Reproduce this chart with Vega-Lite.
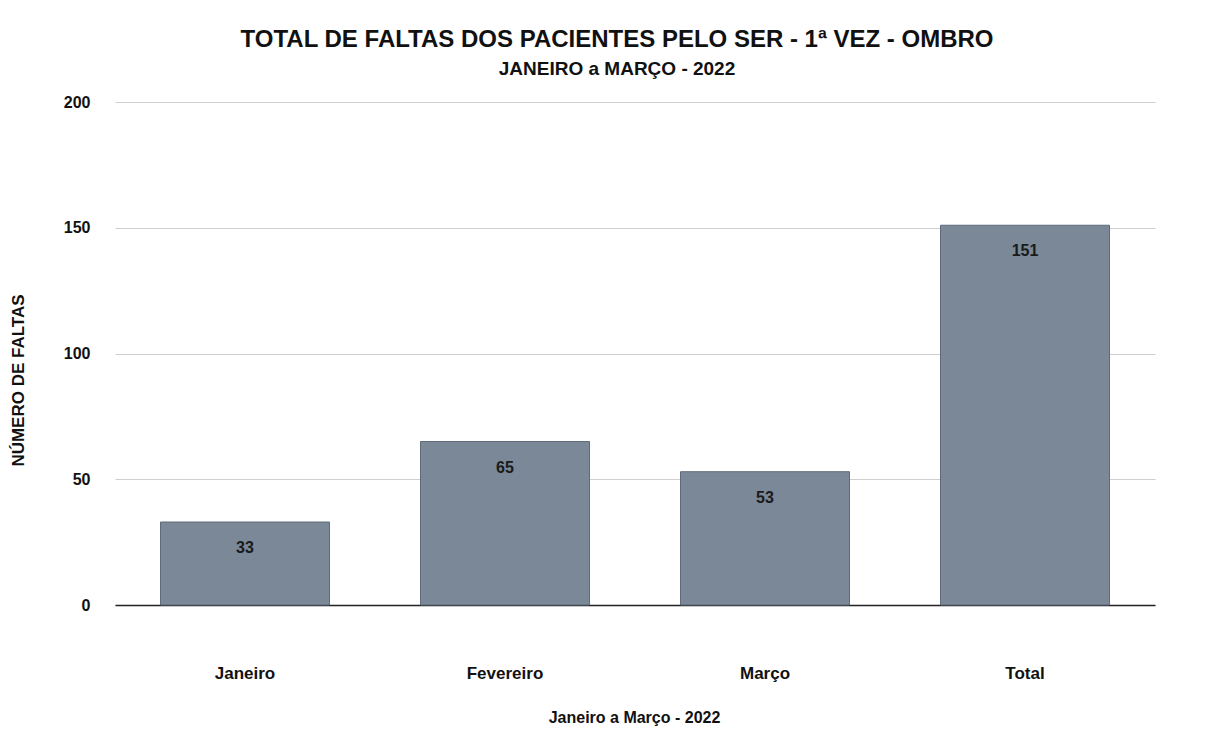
{
  "$schema": "https://vega.github.io/schema/vega-lite/v6.json",
  "autosize": {"type": "none"},
  "width": 1040,
  "height": 503,
  "padding": {"left": 115, "top": 102, "right": 53, "bottom": 133},
  "background": "white",
  "config": {"view": {"stroke": null}, "font": "Liberation Sans"},
  "title": {
    "text": "TOTAL DE FALTAS DOS PACIENTES PELO SER - 1ª VEZ - OMBRO",
    "subtitle": "JANEIRO a MARÇO - 2022",
    "anchor": "middle",
    "dx": -18,
    "offset": 15,
    "font": "Liberation Sans",
    "fontSize": 24,
    "fontWeight": "bold",
    "color": "#111",
    "subtitleFont": "Liberation Sans",
    "subtitleFontSize": 19,
    "subtitleFontWeight": "bold",
    "subtitleColor": "#111",
    "subtitlePadding": 8
  },
  "data": {
    "values": [
      {"mes": "Janeiro", "faltas": 33},
      {"mes": "Fevereiro", "faltas": 65},
      {"mes": "Março", "faltas": 53},
      {"mes": "Total", "faltas": 151}
    ]
  },
  "encoding": {
    "x": {
      "field": "mes",
      "type": "nominal",
      "sort": null,
      "scale": {"paddingInner": 0.35, "paddingOuter": 0.175},
      "axis": {
        "title": "Janeiro a Março - 2022",
        "labelAngle": 0,
        "labelFont": "Liberation Sans",
        "labelFontSize": 17,
        "labelFontWeight": "bold",
        "labelColor": "#111",
        "labelPadding": 60,
        "ticks": false,
        "domainColor": "#222",
        "domainWidth": 1.5,
        "titleFont": "Liberation Sans",
        "titleFontSize": 16,
        "titleFontWeight": "bold",
        "titleColor": "#111",
        "titlePadding": 28,
        "titleX": 519
      }
    },
    "y": {
      "field": "faltas",
      "type": "quantitative",
      "scale": {"domain": [0, 200]},
      "axis": {
        "title": "NÚMERO DE FALTAS",
        "values": [0, 50, 100, 150, 200],
        "domain": false,
        "ticks": false,
        "labelPadding": 25,
        "labelFont": "Liberation Sans",
        "labelFontSize": 16,
        "labelFontWeight": "bold",
        "labelColor": "#111",
        "gridColor": "#cfcfcf",
        "titleFont": "Liberation Sans",
        "titleFontSize": 17,
        "titleFontWeight": "bold",
        "titleColor": "#111",
        "titleX": -88,
        "titleY": 278
      }
    }
  },
  "layer": [
    {
      "mark": {"type": "bar", "color": "#7b8898", "stroke": "#5f6b7a", "strokeWidth": 1}
    },
    {
      "mark": {"type": "text", "baseline": "top", "dy": 18, "font": "Liberation Sans", "fontSize": 16, "fontWeight": "bold", "color": "#1a1a1a"},
      "encoding": {"text": {"field": "faltas", "type": "quantitative"}}
    }
  ]
}
